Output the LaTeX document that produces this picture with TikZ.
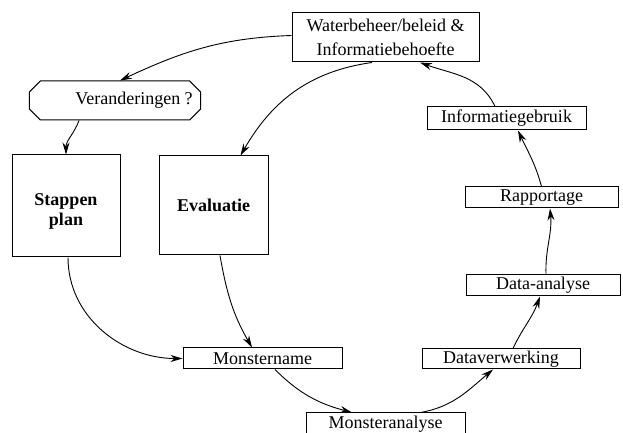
\documentclass[tikz,border=0pt]{standalone}
\usepackage{fontspec}
\setmainfont{Liberation Serif}
\usetikzlibrary{arrows.meta,shapes.misc}

\begin{document}
\begin{tikzpicture}[x=1pt,y=1pt,
	vak/.style={draw,line width=1pt,inner sep=1pt,font=\fontsize{18}{24}\selectfont},
	pijl/.style={-{Stealth[length=12pt,width=7pt]},line width=0.9pt}]
		\clip (0,0) rectangle (623,433);
		\node[vak,minimum width=187pt,minimum height=49pt,align=center] (water) at (385.5,395.5) {Waterbeheer/beleid \&\\Informatiebehoefte};
		\node[vak,chamfered rectangle,chamfered rectangle xsep=8pt,inner xsep=0pt,minimum width=160pt,minimum height=39pt] (veran) at (115,332.5) {\hspace*{38pt}Veranderingen ?};
		\node[vak,minimum width=108pt,minimum height=102pt,font=\fontsize{18}{20}\selectfont\bfseries] (stap) at (66,227) {\raisebox{-10pt}[0pt][0pt]{\begin{tabular}{@{}c@{}}Stappen\\plan\end{tabular}}};
		\node[vak,minimum width=109pt,minimum height=99pt,font=\fontsize{18}{21}\selectfont\bfseries] (eval) at (213.5,227.5) {Evaluatie};
		\node[vak,minimum width=159pt,minimum height=23pt] (info) at (506.5,314.5) {Informatiegebruik};
		\node[vak,minimum width=153pt,minimum height=21pt] (rap) at (541.5,235.5) {Rapportage};
		\node[vak,minimum width=154pt,minimum height=21pt] (dana) at (543,147.5) {Data-analyse};
		\node[vak,minimum width=158pt,minimum height=20pt] (dver) at (501,74) {Dataverwerking};
		\node[vak,minimum width=159pt,minimum height=21pt] (mon) at (262.5,74.5) {Monstername};
		\node[vak,minimum width=159pt,minimum height=22pt] (man) at (385.5,9) {Monsteranalyse};

		\draw[pijl] ([yshift=2pt]water.west) to[out=182,in=25] ([xshift=5pt]veran.north);
		\draw[pijl] ([xshift=-36pt]veran.south) to[out=-110,in=90] (stap.north);
		\draw[pijl] ([xshift=-13.5pt]water.south) to[out=188,in=60] ([xshift=27pt]eval.north);
		\draw[pijl] ([xshift=-11.5pt]info.north) to[out=115,in=-20] ([xshift=34.5pt]water.south);
		\draw[pijl] (rap.north) to[out=105,in=-65] ([xshift=11.5pt]info.south);
		\draw[pijl] ([xshift=3pt]dana.north) to[out=92,in=-85] ([xshift=8.5pt]rap.south);
		\draw[pijl] ([xshift=12pt]dver.north) to[out=65,in=-110] ([xshift=-3pt]dana.south);
		\draw[pijl] ([xshift=35pt]man.north) to[out=10,in=-140] ([xshift=-8pt]dver.south);
		\draw[pijl] ([xshift=12.5pt]mon.south) to[out=-45,in=165] ([xshift=-33.5pt]man.north);
		\draw[pijl] ([xshift=2pt]stap.south) to[out=-90,in=180] (mon.west);
		\draw[pijl] ([xshift=6.5pt]eval.south) to[out=-80,in=120] ([xshift=-10.5pt]mon.north);
\end{tikzpicture}
\end{document}
